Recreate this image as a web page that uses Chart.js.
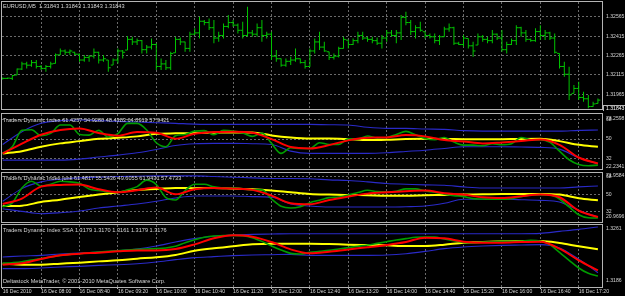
<!DOCTYPE html>
<html>
<head>
<meta charset="utf-8">
<title>EURUSD M5 - Traders Dynamic Index</title>
<script src="https://cdn.jsdelivr.net/npm/chart.js"></script>
<style>
  html, body { margin:0; padding:0; background:#000; }
  #wrap { position:relative; width:625px; height:296px; background:#000; overflow:hidden; }
  #wrap canvas { position:absolute; left:0; }
</style>
</head>
<body>
<div id="wrap">
  <canvas id="pricePane" width="625" height="111" style="top:0px"></canvas>
  <canvas id="tdiPane" width="625" height="60" style="top:111px"></canvas>
  <canvas id="junkPane" width="625" height="52" style="top:171px"></canvas>
  <canvas id="ssaPane" width="625" height="73" style="top:223px"></canvas>
</div>
<script>
// ---- data (bar index 0 = 16 Dec 07:20, M5 bars) ----
const tickBars = [0, 8, 16, 24, 32, 40, 48, 56, 64, 72, 80, 88, 96, 104, 112, 120];
const tickLabels = ['16 Dec 2010', '16 Dec 08:00', '16 Dec 08:40', '16 Dec 09:20', '16 Dec 10:00',
  '16 Dec 10:40', '16 Dec 11:20', '16 Dec 12:00', '16 Dec 12:40', '16 Dec 13:20', '16 Dec 14:00',
  '16 Dec 14:40', '16 Dec 15:20', '16 Dec 16:00', '16 Dec 16:40', '16 Dec 17:20'];

const priceTicks = [1.32565, 1.32415, 1.32265, 1.32115, 1.31965];
const lastPrice = 1.31843;
const tdiLevels = [32, 50, 68];

const priceHigh = [1.32095,1.32093,1.32114,1.32165,1.32217,1.32217,1.32230,1.32230,1.32191,1.32191,
  1.32217,1.32281,1.32320,1.32312,1.32312,1.32294,1.32281,1.32268,1.32268,1.32320,
  1.32294,1.32268,1.32230,1.32242,1.32320,1.32307,1.32415,1.32410,1.32397,1.32384,
  1.32346,1.32397,1.32359,1.32242,1.32230,1.32294,1.32410,1.32405,1.32371,1.32449,
  1.32475,1.32565,1.32539,1.32552,1.32539,1.32449,1.32513,1.32578,1.32539,1.32513,
  1.32526,1.32642,1.32462,1.32513,1.32539,1.32449,1.32449,1.32307,1.32242,1.32242,
  1.32255,1.32320,1.32242,1.32230,1.32320,1.32397,1.32449,1.32371,1.32294,1.32281,
  1.32333,1.32410,1.32384,1.32397,1.32449,1.32449,1.32410,1.32410,1.32405,1.32423,
  1.32462,1.32462,1.32462,1.32578,1.32604,1.32539,1.32500,1.32526,1.32449,1.32436,
  1.32436,1.32423,1.32488,1.32513,1.32488,1.32371,1.32423,1.32397,1.32371,1.32436,
  1.32423,1.32410,1.32462,1.32436,1.32462,1.32371,1.32397,1.32500,1.32488,1.32462,
  1.32397,1.32475,1.32500,1.32462,1.32449,1.32436,1.32281,1.32217,1.32178,1.32036,
  1.32062,1.31985,1.31959,1.31907,1.31933];
const priceLow = [1.32080,1.32083,1.32075,1.32114,1.32152,1.32165,1.32178,1.32165,1.32152,1.32139,
  1.32165,1.32204,1.32268,1.32268,1.32268,1.32268,1.32217,1.32217,1.32217,1.32242,
  1.32204,1.32217,1.32139,1.32191,1.32204,1.32242,1.32307,1.32346,1.32346,1.32281,
  1.32281,1.32312,1.32152,1.32152,1.32152,1.32152,1.32286,1.32346,1.32294,1.32294,
  1.32423,1.32397,1.32500,1.32462,1.32359,1.32371,1.32397,1.32475,1.32488,1.32436,
  1.32397,1.32410,1.32410,1.32410,1.32371,1.32397,1.32230,1.32217,1.32178,1.32178,
  1.32191,1.32217,1.32204,1.32165,1.32178,1.32281,1.32307,1.32294,1.32230,1.32235,
  1.32250,1.32320,1.32320,1.32346,1.32359,1.32384,1.32371,1.32359,1.32346,1.32320,
  1.32371,1.32410,1.32359,1.32384,1.32500,1.32423,1.32397,1.32449,1.32397,1.32397,
  1.32359,1.32346,1.32410,1.32449,1.32346,1.32346,1.32333,1.32320,1.32255,1.32346,
  1.32371,1.32359,1.32359,1.32384,1.32294,1.32281,1.32346,1.32346,1.32410,1.32371,
  1.32371,1.32371,1.32384,1.32384,1.32384,1.32281,1.32165,1.32101,1.31920,1.31972,
  1.31920,1.31907,1.31856,1.31868,1.31894];
const priceOpen = [1.32085,1.32088,1.32088,1.32114,1.32160,1.32200,1.32190,1.32210,1.32180,1.32165,
  1.32180,1.32204,1.32270,1.32300,1.32290,1.32290,1.32275,1.32230,1.32250,1.32260,
  1.32290,1.32230,1.32230,1.32191,1.32230,1.32300,1.32307,1.32390,1.32370,1.32380,
  1.32310,1.32330,1.32350,1.32180,1.32200,1.32170,1.32286,1.32390,1.32370,1.32320,
  1.32430,1.32440,1.32530,1.32520,1.32480,1.32400,1.32420,1.32490,1.32520,1.32500,
  1.32460,1.32420,1.32440,1.32430,1.32480,1.32420,1.32430,1.32260,1.32240,1.32190,
  1.32220,1.32230,1.32240,1.32210,1.32180,1.32300,1.32370,1.32330,1.32294,1.32250,
  1.32260,1.32320,1.32384,1.32350,1.32380,1.32420,1.32400,1.32390,1.32380,1.32360,
  1.32400,1.32440,1.32420,1.32440,1.32560,1.32520,1.32450,1.32480,1.32449,1.32420,
  1.32410,1.32380,1.32410,1.32470,1.32480,1.32360,1.32350,1.32397,1.32340,1.32346,
  1.32410,1.32390,1.32380,1.32430,1.32400,1.32310,1.32350,1.32380,1.32480,1.32440,
  1.32390,1.32380,1.32450,1.32420,1.32440,1.32400,1.32281,1.32180,1.32120,1.31972,
  1.32010,1.31940,1.31930,1.31870,1.31894];
const priceClose = [1.32088,1.32090,1.32110,1.32160,1.32200,1.32190,1.32210,1.32180,1.32165,1.32180,
  1.32200,1.32270,1.32300,1.32290,1.32300,1.32275,1.32230,1.32250,1.32260,1.32290,
  1.32230,1.32240,1.32170,1.32230,1.32300,1.32290,1.32390,1.32370,1.32380,1.32310,
  1.32330,1.32350,1.32180,1.32200,1.32170,1.32280,1.32390,1.32370,1.32320,1.32430,
  1.32440,1.32530,1.32520,1.32480,1.32400,1.32420,1.32490,1.32520,1.32500,1.32460,
  1.32420,1.32440,1.32430,1.32480,1.32420,1.32430,1.32260,1.32240,1.32190,1.32220,
  1.32230,1.32240,1.32210,1.32180,1.32300,1.32370,1.32330,1.32300,1.32250,1.32260,
  1.32320,1.32390,1.32350,1.32380,1.32420,1.32400,1.32390,1.32380,1.32360,1.32400,
  1.32440,1.32420,1.32440,1.32560,1.32520,1.32450,1.32480,1.32460,1.32420,1.32410,
  1.32380,1.32410,1.32470,1.32480,1.32360,1.32350,1.32400,1.32340,1.32300,1.32410,
  1.32390,1.32380,1.32430,1.32400,1.32310,1.32350,1.32380,1.32480,1.32440,1.32390,
  1.32380,1.32450,1.32420,1.32440,1.32400,1.32290,1.32180,1.32120,1.31960,1.32010,
  1.31940,1.31930,1.31870,1.31890,1.31920];

// indicator sample positions (bar index)
const fastBars = [0,2,4,6,8,10,12,14,16,18,20,22,24,26,28,30,32,34,36,38,40,42,44,46,48,50,52,54,56,58,60,62,
  64,66,68,70,72,74,76,78,80,82,84,86,88,90,92,94,96,98,100,102,104,106,108,110,112,114,116,118,120,122,124];
const slowBars = [0,4,8,12,16,20,24,28,32,36,40,44,48,52,56,60,64,68,72,76,80,84,88,92,96,100,104,108,112,116,120,124];

// Traders Dynamic Index
const tdiPrice = [36.7,42.9,58.1,58.7,53.1,55.3,63.0,63.0,54.3,53.7,58.1,51.9,55.0,64.6,64.6,58.4,46.6,42.9,53.1,54.3,
  57.4,57.8,54.0,58.1,57.4,55.6,52.5,55.6,46.0,36.7,41.9,41.3,41.3,46.6,45.0,45.0,50.3,50.0,52.8,50.9,51.5,54.3,
  57.1,54.0,50.6,49.4,51.5,47.2,44.4,44.4,43.8,45.7,44.7,45.7,51.5,49.4,49.4,46.9,38.8,30.8,26.4,25.2,25.8];
const tdiSignal = [36.7,45.7,54.0,58.4,59.9,55.6,53.1,56.5,55.9,50.3,55.0,56.5,56.8,55.9,50.0,42.6,
  41.3,44.4,48.8,51.2,51.5,53.7,52.5,49.1,47.8,46.0,46.9,48.1,49.7,44.7,32.9,27.4];
const tdiBase = [36.7,38.8,42.9,46.0,48.1,50.3,51.2,52.5,55.0,55.3,55.6,55.9,56.2,56.2,53.4,51.5,
  50.6,50.6,50.0,49.1,49.4,50.0,50.2,50.1,49.9,49.8,49.9,50.1,50.2,48.1,44.7,42.9];
const tdiUpper = [45.0,56.8,64.6,67.1,67.7,67.1,66.4,65.8,65.2,64.6,63.9,63.6,63.6,63.6,63.6,63.6,
  63.6,63.3,63.0,60.9,59.9,59.9,59.3,59.0,57.8,57.4,57.4,57.4,57.4,57.4,58.1,58.4];
const tdiLower = [30.5,30.5,30.5,30.5,31.4,33.3,35.1,37.3,40.4,44.1,45.7,46.0,46.0,45.7,45.0,38.8,
  36.7,36.7,36.7,36.7,37.3,38.5,39.7,41.3,42.9,42.9,42.9,42.6,42.3,40.7,32.6,27.1];

// Traders Dynamic Index junk
const junkPrice = [36.9,40.8,56.4,63.4,58.2,60.3,63.4,62.7,61.3,55.4,53.7,52.3,51.9,54.4,57.8,64.5,59.9,46.3,43.9,53.7,
  60.3,60.3,57.5,56.4,56.4,55.4,54.4,54.4,44.9,37.3,35.5,36.9,41.1,43.6,46.3,47.0,49.1,51.6,54.0,52.6,52.3,53.0,
  55.4,55.4,53.3,51.9,49.8,48.4,47.4,45.3,44.9,44.6,44.6,45.3,47.4,49.1,49.5,49.1,44.9,36.6,28.5,25.4,25.1];
const junkSignal = [39.7,45.3,57.8,59.6,59.9,55.0,51.9,54.0,56.8,49.8,55.0,56.4,55.7,54.4,48.4,40.4,
  39.4,43.9,47.4,50.5,51.9,53.0,53.7,50.9,49.5,46.7,46.0,47.7,49.5,46.7,32.7,26.1];
const junkBase = [37.6,38.0,41.8,44.2,47.0,49.5,51.9,54.4,55.4,56.4,56.1,56.4,55.7,55.0,53.7,51.9,
  50.2,49.5,49.1,48.8,48.4,48.4,48.8,49.1,49.5,49.8,50.2,50.2,50.2,49.5,45.6,43.5];
const junkUpper = [42.5,55.7,62.7,65.5,66.9,67.6,68.3,68.6,69.0,69.0,69.0,68.3,67.6,66.9,66.2,66.2,
  65.9,64.8,64.1,62.7,61.0,60.3,59.6,59.2,57.5,56.4,56.4,56.4,56.4,56.4,57.5,58.5];
const junkLower = [34.8,32.0,29.6,30.6,32.4,35.5,37.6,39.7,42.5,46.0,48.1,48.1,48.1,47.4,46.7,39.7,
  37.6,36.6,36.6,36.6,36.6,36.9,37.6,40.4,44.6,44.6,44.6,44.2,43.5,41.8,33.1,26.1];

// Traders Dynamic Index SSA
const ssaPrice = [1.32146,1.32154,1.32166,1.32187,1.32203,1.32223,1.32243,1.32255,1.32263,1.32275,
  1.32283,1.32291,1.32299,1.32307,1.32315,1.32320,1.32324,1.32332,1.32352,1.32396,
  1.32432,1.32461,1.32477,1.32481,1.32485,1.32481,1.32457,1.32412,1.32356,1.32307,1.32267,1.32259,
  1.32279,1.32291,1.32303,1.32320,1.32336,1.32352,1.32368,1.32388,1.32408,1.32428,
  1.32445,1.32461,1.32465,1.32465,1.32440,1.32420,1.32400,1.32396,1.32404,1.32408,
  1.32412,1.32412,1.32416,1.32424,1.32416,1.32372,1.32279,1.32183,1.32090,1.32025,1.31993];
const ssaSignal = [1.32130,1.32146,1.32199,1.32243,1.32263,1.32275,1.32291,1.32303,1.32303,1.32320,
  1.32376,1.32449,1.32485,1.32469,1.32404,1.32315,1.32267,1.32287,1.32315,1.32340,1.32368,1.32404,
  1.32457,1.32449,1.32408,1.32396,1.32396,1.32404,1.32408,1.32324,1.32183,1.32062];
const ssaBase = [1.32142,1.32130,1.32130,1.32142,1.32154,1.32170,1.32183,1.32203,1.32219,1.32247,
  1.32299,1.32328,1.32352,1.32376,1.32384,1.32384,1.32384,1.32380,1.32372,1.32368,1.32364,1.32356,
  1.32356,1.32372,1.32396,1.32404,1.32412,1.32416,1.32416,1.32392,1.32352,1.32316];
const ssaUpper = [1.32223,1.32235,1.32243,1.32259,1.32271,1.32283,1.32299,1.32320,1.32356,1.32404,
  1.32445,1.32473,1.32489,1.32497,1.32501,1.32505,1.32505,1.32505,1.32505,1.32505,1.32505,1.32505,
  1.32505,1.32505,1.32505,1.32505,1.32505,1.32505,1.32509,1.32533,1.32557,1.32586];
const ssaLower = [1.32082,1.32082,1.32090,1.32102,1.32110,1.32122,1.32130,1.32142,1.32162,1.32191,
  1.32215,1.32227,1.32239,1.32247,1.32251,1.32255,1.32243,1.32243,1.32243,1.32243,1.32247,1.32263,
  1.32291,1.32324,1.32344,1.32356,1.32364,1.32368,1.32372,1.32332,1.32195,1.32033];

// ---- styling ----
const GRID = '#6a6a6a';
const FRAME = '#b4b4b4';
const TEXT = '#d6d6d6';
const BAR_GREEN = '#00c400';
const GREEN = '#009c00';
const RED = '#ff0000';
const YELLOW = '#ffff00';
const BLUE = '#2a2ac8';
const X_MIN = -0.146, X_MAX = 124.85;

Chart.defaults.font.family = '"Liberation Sans", Arial, sans-serif';
Chart.defaults.color = TEXT;

// frame, window titles, min/max labels, last price box
const paneDecor = {
  id: 'paneDecor',
  afterDraw(chart, args, o) {
    const {ctx, chartArea: a} = chart;
    ctx.save();
    ctx.strokeStyle = FRAME;
    ctx.lineWidth = 1;
    ctx.strokeRect(a.left - 0.5, a.top - 0.5, a.right - a.left + 1, a.bottom - a.top + 1);
    ctx.fillStyle = TEXT;
    ctx.textAlign = 'left';
    ctx.textBaseline = 'middle';
    ctx.font = '5.6px "Liberation Sans"';
    if (o.title) ctx.fillText(o.title, a.left + 1, a.top + o.titleY);
    if (o.footer) ctx.fillText(o.footer, a.left + 1, a.bottom - o.footerDy);
    ctx.font = '5.1px "Liberation Sans"';
    (o.edgeLabels || []).forEach(l => {
      const y = l.at === 'top' ? a.top + l.dy : a.bottom - l.dy;
      ctx.fillText(l.text, a.right + 4, y);
    });
    if (o.lastPrice) {
      const y = Math.round(chart.scales.y.getPixelForValue(o.lastPrice)) - 1;
      ctx.fillStyle = '#000';
      ctx.fillRect(a.right + 1, y - 3, 23, 7);
      ctx.strokeStyle = FRAME;
      ctx.strokeRect(a.right + 1.5, y - 3.5, 23, 7);
      ctx.fillStyle = '#ffffff';
      ctx.fillText(o.lastPrice.toFixed(5), a.right + 4, y);
    }
    ctx.restore();
  }
};
Chart.register(paneDecor);

function xAxis(showLabels) {
  return {
    type: 'linear', min: X_MIN, max: X_MAX, offset: false,
    afterBuildTicks: s => { s.ticks = tickBars.map(v => ({value: v})); },
    afterFit: s => { s.height = showLabels ? 9 : 0; s.paddingLeft = 0; s.paddingRight = 0; },
    grid: {
      offset: false,
      color: c => c.index === 0 ? 'rgba(0,0,0,0)' : GRID,
      lineWidth: 1, drawTicks: showLabels, tickLength: 2, tickColor: FRAME
    },
    border: { display: false, dash: [2, 2] },
    ticks: {
      display: showLabels, autoSkip: false, maxRotation: 0, minRotation: 0,
      align: 'start', padding: 0, color: TEXT, font: { size: 5.1 },
      callback: (v, i) => tickLabels[i]
    }
  };
}

function yAxis(min, max, values, fmt) {
  return {
    type: 'linear', position: 'right', min: min, max: max, offset: false,
    afterBuildTicks: s => { s.ticks = values.map(v => ({value: v})); },
    afterFit: s => { s.width = 23; s.paddingTop = 0; s.paddingBottom = 0; },
    grid: { offset: false, color: GRID, drawTicks: false, display: values.length > 0 },
    border: { display: false, dash: [2, 2] },
    ticks: { display: values.length > 0, color: TEXT, padding: 4, font: { size: 5.1 }, callback: fmt }
  };
}

function baseOptions(pad, x, y, decor) {
  return {
    responsive: false, animation: false, events: [], devicePixelRatio: 1,
    layout: { autoPadding: false, padding: pad },
    plugins: { legend: { display: false }, tooltip: { enabled: false }, paneDecor: decor },
    scales: { x: x, y: y }
  };
}

function pts(xs, ys) { return xs.map((x, i) => ({x: x, y: ys[i]})); }

function lineSet(data, color, width) {
  return { data: data, borderColor: color, borderWidth: width, pointRadius: 0,
    fill: false, cubicInterpolationMode: 'monotone' };
}

// ---- price window ----
new Chart(document.getElementById('pricePane'), {
  type: 'scatter',
  data: {
    datasets: [
      { type: 'bar', data: priceHigh.map((h, i) => ({x: i, y: [priceLow[i], h]})),
        backgroundColor: BAR_GREEN, borderWidth: 0, barThickness: 1, minBarLength: 1, inflateAmount: 0 },
      { type: 'scatter', data: priceOpen.map((v, i) => ({x: i - 0.25, y: v})),
        pointStyle: 'line', pointRadius: 1.2, pointBorderColor: BAR_GREEN, borderColor: BAR_GREEN, pointBorderWidth: 1 },
      { type: 'scatter', data: priceClose.map((v, i) => ({x: i + 0.25, y: v})),
        pointStyle: 'line', pointRadius: 1.2, pointBorderColor: BAR_GREEN, borderColor: BAR_GREEN, pointBorderWidth: 1 }
    ]
  },
  options: baseOptions({ left: 2, right: 0, top: 2, bottom: 2 }, xAxis(false),
    yAxis(1.31851, 1.32679, priceTicks, v => v.toFixed(5)),
    { title: 'EURUSD,M5  1.31843 1.31843 1.31843 1.31843', titleY: 4, lastPrice: lastPrice })
});

// ---- indicator windows ----
function tdiPane(id, pad, sets, yMin, yMax, levels, decor) {
  const [upper, lower, base, signal, price] = sets;
  return new Chart(document.getElementById(id), {
    type: 'line',
    data: {
      datasets: [
        lineSet(pts(slowBars, signal), RED, 2),
        lineSet(pts(fastBars, price), GREEN, 1.6),
        lineSet(pts(slowBars, base), YELLOW, 2),
        lineSet(pts(slowBars, upper), BLUE, 1.1),
        lineSet(pts(slowBars, lower), BLUE, 1.1)
      ]
    },
    options: baseOptions(pad, xAxis(id === 'ssaPane'),
      yAxis(yMin, yMax, levels, v => String(v)), decor)
  });
}

tdiPane('tdiPane', { left: 2, right: 0, top: 3, bottom: 2 },
  [tdiUpper, tdiLower, tdiBase, tdiSignal, tdiPrice], 22.2341, 73.2598, tdiLevels,
  { title: 'Traders Dynamic Index 61.4257 54.9280 48.4383 64.8919 57.9421', titleY: 6.5,
    edgeLabels: [{ text: '73.2598', at: 'top', dy: 5 }, { text: '22.2341', at: 'bottom', dy: 2.5 }] });

tdiPane('junkPane', { left: 2, right: 0, top: 2, bottom: 1 },
  [junkUpper, junkLower, junkBase, junkSignal, junkPrice], 20.9696, 71.9584, tdiLevels,
  { title: 'Traders Dynamic Index junk 61.4817 55.5436 49.6055 61.9431 57.4733', titleY: 5.7,
    edgeLabels: [{ text: '71.9584', at: 'top', dy: 2.5 }, { text: '20.9696', at: 'bottom', dy: 5 }] });

tdiPane('ssaPane', { left: 2, right: 0, top: 2, bottom: 0 },
  [ssaUpper, ssaLower, ssaBase, ssaSignal, ssaPrice], 1.3186, 1.3261, [],
  { title: 'Traders Dynamic Index SSA 1.3179 1.3170 1.3161 1.3179 1.3176', titleY: 5.3,
    footer: 'Deltastock MetaTrader, \u00a9 2001-2010 MetaQuotes Software Corp.', footerDy: 6,
    edgeLabels: [{ text: '1.3261', at: 'top', dy: 4 }, { text: '1.3186', at: 'bottom', dy: 6 }] });
</script>
</body>
</html>
